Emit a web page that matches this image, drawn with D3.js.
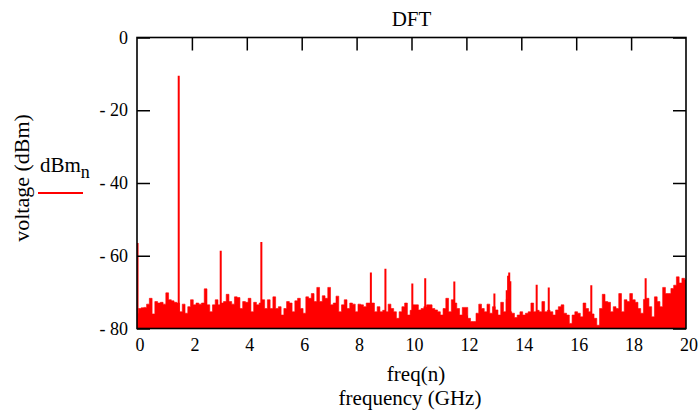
<!DOCTYPE html>
<html>
<head>
<meta charset="utf-8">
<script src="https://cdn.jsdelivr.net/npm/d3@7"></script>
<style>
  html, body { margin: 0; padding: 0; background: #fff; }
  svg { display: block; }
</style>
</head>
<body>
<svg id="chart" width="699" height="415"></svg>
<script>
// ---- data ----
const title = "DFT";
const xLabel1 = "freq(n)";
const xLabel2 = "frequency (GHz)";
const yLabel = "voltage (dBm)";
const legendName = "dBm";
const legendSub = "n";
const xTicks = [0, 2, 4, 6, 8, 10, 12, 14, 16, 18, 20];
const yTicks = [0, -20, -40, -60, -80];
const freqStep = 0.1; // GHz between noise samples
// noise-floor level (dBm) sampled every 0.1 GHz from 0 to 20 GHz
const noiseFloor = [
  -75.8, -74.5, -74.3, -74.2, -73.3, -71.7, -76.0, -72.6, -73.0, -72.8,
  -73.3, -70.2, -72.1, -72.4, -72.8, -73.0, -75.4, -73.3, -75.8, -74.0,
  -72.1, -73.5, -73.0, -73.3, -73.0, -69.1, -73.5, -75.4, -73.5, -72.1,
  -73.5, -73.0, -72.6, -70.6, -72.6, -73.3, -71.3, -71.5, -74.5, -72.6,
  -72.8, -71.7, -75.4, -72.8, -73.5, -73.0, -72.1, -74.5, -72.1, -74.5,
  -71.3, -74.5, -74.0, -76.3, -74.5, -72.6, -73.0, -75.4, -72.4, -71.7,
  -74.5, -75.8, -71.3, -71.7, -70.4, -72.6, -68.7, -72.6, -71.0, -71.7,
  -68.7, -73.5, -73.0, -71.1, -75.4, -73.5, -72.1, -74.5, -73.0, -73.3,
  -75.4, -73.3, -73.5, -74.0, -73.0, -73.0, -73.0, -75.4, -74.0, -75.4,
  -75.0, -75.4, -73.3, -74.5, -75.4, -77.2, -75.4, -74.0, -73.0, -76.3,
  -75.0, -73.5, -73.5, -74.9, -74.5, -74.0, -73.5, -73.5, -74.5, -74.9,
  -75.4, -76.3, -74.5, -71.7, -75.4, -72.1, -73.0, -74.5, -76.3, -74.2,
  -74.2, -77.2, -78.1, -78.1, -75.8, -73.3, -74.5, -75.4, -73.3, -75.8,
  -74.0, -74.9, -76.3, -72.8, -75.4, -72.0, -75.4, -75.8, -77.0, -76.3,
  -75.4, -76.3, -75.8, -75.4, -73.0, -75.4, -75.0, -75.4, -72.6, -75.4,
  -75.0, -75.4, -76.3, -74.9, -74.0, -73.5, -75.8, -76.3, -78.6, -76.3,
  -75.4, -75.8, -76.8, -73.0, -74.5, -75.4, -76.0, -77.2, -79.1, -74.5,
  -70.6, -72.6, -72.8, -75.4, -74.0, -74.5, -70.4, -75.4, -72.1, -72.6,
  -70.4, -72.1, -72.8, -74.5, -75.8, -72.0, -71.7, -74.0, -76.8, -71.3,
  -72.6, -74.0, -68.7, -70.4, -70.4, -69.0, -68.1, -65.8, -67.5, -66.2,
  -66.6
];
// narrow peaks: frequency (GHz) and level (dBm)
const peakFreq = [0.02, 1.52, 3.05, 4.53, 8.52, 9.05, 10.03, 10.5, 11.56, 13.02, 13.47, 13.52, 13.56, 13.6, 14.56, 15.0, 16.55, 18.53];
const peakLevel = [-56.5, -10.5, -58.6, -56.2, -64.6, -63.6, -67.6, -66.2, -67.1, -70.4, -69.5, -65.5, -64.6, -67.0, -68.0, -68.7, -68.1, -66.2];

// ---- layout ----
const FONT = "'Liberation Serif', 'Times New Roman', Times, 'DejaVu Serif', serif";
const svg = d3.select("#chart");
const L = 137, R = 686, T = 37.5, B = 328.5;
const x = d3.scaleLinear().domain([0, 20]).range([L, R]);
const y = d3.scaleLinear().domain([-80, 0]).range([B, T]);
const red = "#ff0000";
const tickLen = 13;

svg.append("defs").append("clipPath").attr("id", "plotClip")
  .append("rect").attr("x", L).attr("y", T).attr("width", R - L).attr("height", B - T);

// bottom ticks (under the trace)
const gBottom = svg.append("g").attr("transform", `translate(0,${B})`)
  .call(d3.axisTop(x).tickValues(xTicks.slice(1, -1)).tickSize(tickLen).tickFormat(""));
gBottom.select(".domain").remove();
gBottom.selectAll("line").attr("stroke", "#000").attr("stroke-width", 1.5);

// trace
const noiseData = noiseFloor.map((v, i) => ({ f: i * freqStep, v }));
const area = d3.area()
  .x(d => x(d.f)).y0(y(-80)).y1(d => y(d.v))
  .curve(d3.curveStep);
const gPlot = svg.append("g").attr("clip-path", "url(#plotClip)");
gPlot.append("path").datum(noiseData).attr("d", area).attr("fill", red).attr("stroke", red).attr("stroke-width", 0.6);
gPlot.selectAll("line.peak").data(peakFreq.map((f, i) => ({ f, v: peakLevel[i] })))
  .enter().append("line").attr("class", "peak")
  .attr("x1", d => x(d.f)).attr("x2", d => x(d.f))
  .attr("y1", y(-80)).attr("y2", d => y(d.v))
  .attr("stroke", red).attr("stroke-width", 2);

// top ticks
const gTop = svg.append("g").attr("transform", `translate(0,${T})`)
  .call(d3.axisBottom(x).tickValues(xTicks.slice(1, -1)).tickSize(tickLen).tickFormat(""));
gTop.select(".domain").remove();
gTop.selectAll("line").attr("stroke", "#000").attr("stroke-width", 1.5);

// left ticks
const gLeft = svg.append("g").attr("transform", `translate(${L},0)`)
  .call(d3.axisRight(y).tickValues(yTicks).tickSize(tickLen).tickFormat(""));
gLeft.select(".domain").remove();
gLeft.selectAll("line").attr("stroke", "#000").attr("stroke-width", 1.5);

// right ticks
const gRight = svg.append("g").attr("transform", `translate(${R},0)`)
  .call(d3.axisLeft(y).tickValues(yTicks).tickSize(tickLen).tickFormat(""));
gRight.select(".domain").remove();
gRight.selectAll("line").attr("stroke", "#000").attr("stroke-width", 1.5);

// frame
svg.append("rect").attr("x", L).attr("y", T).attr("width", R - L).attr("height", B - T)
  .attr("fill", "none").attr("stroke", "#000").attr("stroke-width", 1.6);

function txt(sel) { return sel.style("font-family", FONT).attr("fill", "#000"); }

// tick labels
svg.append("g").selectAll("text").data(xTicks).enter().append("text")
  .call(txt)
  .attr("x", d => x(d) + 3).attr("y", 351)
  .attr("text-anchor", "middle").style("font-size", "18px")
  .text(d => d);
svg.append("g").selectAll("text").data(yTicks).enter().append("text")
  .call(txt)
  .attr("x", 128).attr("y", d => y(d) + 6)
  .attr("text-anchor", "end").style("font-size", "18px")
  .text(d => d === 0 ? "0" : "- " + Math.abs(d));

// titles
svg.append("text").call(txt).attr("x", (L + R) / 2).attr("y", 26).attr("text-anchor", "middle")
  .style("font-size", "21px").text(title);
svg.append("text").call(txt).attr("x", 416).attr("y", 381).attr("text-anchor", "middle")
  .style("font-size", "21px").text(xLabel1);
svg.append("text").call(txt).attr("x", 410).attr("y", 405).attr("text-anchor", "middle")
  .style("font-size", "21px").text(xLabel2);
svg.append("text").call(txt).attr("transform", "translate(29,178) rotate(-90)")
  .attr("text-anchor", "middle").style("font-size", "22px").text(yLabel);

// legend
const lg = svg.append("text").call(txt).attr("x", 40).attr("y", 172).style("font-size", "21px");
lg.append("tspan").text(legendName);
lg.append("tspan").attr("dy", 6).style("font-size", "18px").text(legendSub);
svg.append("line").attr("x1", 38).attr("x2", 83).attr("y1", 193).attr("y2", 193)
  .attr("stroke", red).attr("stroke-width", 2);
</script>
</body>
</html>
